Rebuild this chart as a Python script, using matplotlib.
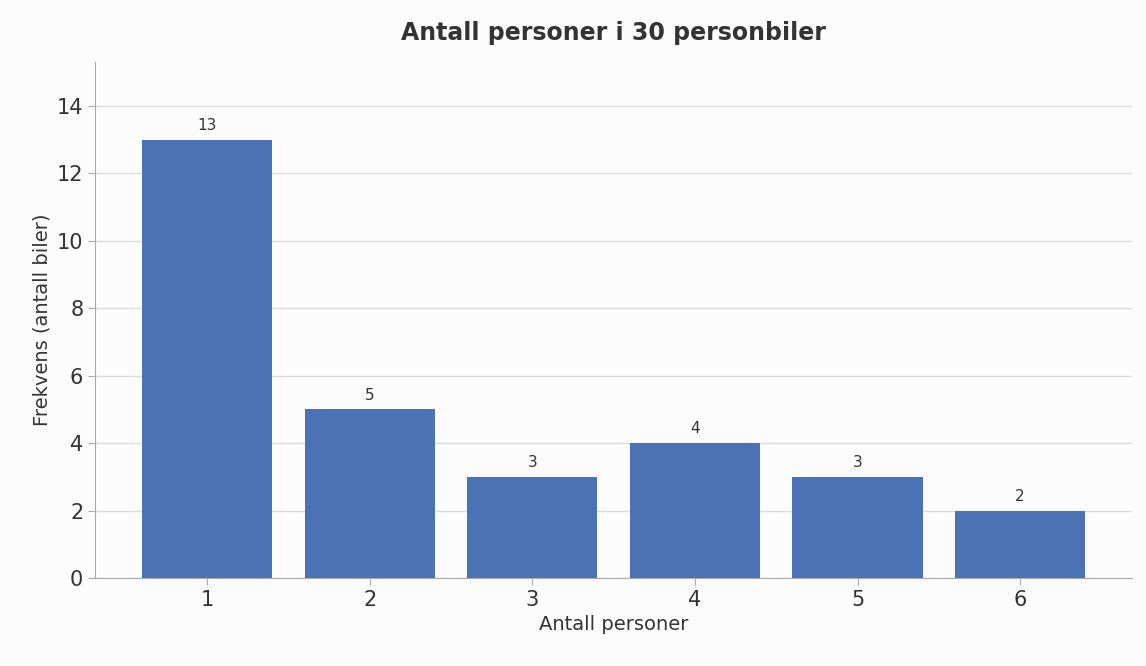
import matplotlib
matplotlib.use("Agg")
import matplotlib.pyplot as plt

personer = [1, 2, 3, 4, 5, 6]
frekvens = [13, 5, 3, 4, 3, 2]

fig, ax = plt.subplots(figsize=(11.46, 6.66), dpi=100)
fig.patch.set_facecolor("#fcfcfc")
ax.set_facecolor("#fcfcfc")
fig.subplots_adjust(left=0.083, right=0.988, top=0.907, bottom=0.132)

bars = ax.bar(personer, frekvens, width=0.8, color="#4a72b5", zorder=3)
for b, v in zip(bars, frekvens):
    ax.text(b.get_x() + b.get_width() / 2, v + 0.2, str(v), ha="center", va="bottom",
            fontsize=11, color="#333333")

ax.set_ylim(0, 15.3)
ax.set_xlim(0.31, 6.69)
ax.set_xticks(personer)
ax.set_yticks(range(0, 15, 2))
ax.grid(axis="y", color="#dddddd", linewidth=1, zorder=0)
for s in ["top", "right"]:
    ax.spines[s].set_visible(False)
for s in ["left", "bottom"]:
    ax.spines[s].set_color("#aaaaaa")
ax.tick_params(labelsize=15, colors="#aaaaaa", labelcolor="#333333", length=5)

ax.set_title("Antall personer i 30 personbiler", fontsize=17, fontweight="bold",
             color="#333333", pad=16)
ax.set_xlabel("Antall personer", fontsize=14, color="#333333")
ax.set_ylabel("Frekvens (antall biler)", fontsize=14, color="#333333")

fig.savefig("out.png", facecolor=fig.get_facecolor())
